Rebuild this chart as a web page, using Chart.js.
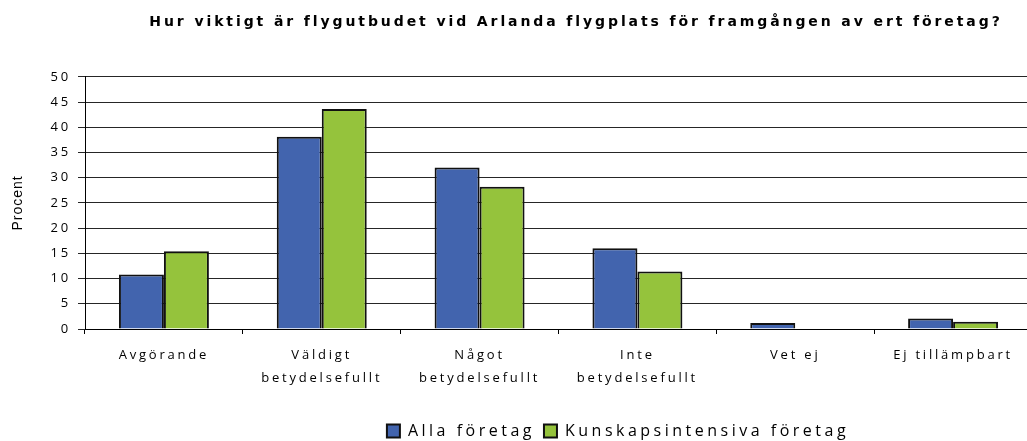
<!DOCTYPE html>
<html>
<head>
<meta charset="utf-8">
<script src="https://cdn.jsdelivr.net/npm/chart.js@4.4.0/dist/chart.umd.min.js"></script>
<style>
html, body { margin: 0; padding: 0; background: #fff; overflow: hidden; }
#wrap { width: 1040px; height: 441px; }
</style>
</head>
<body>
<div id="wrap"><canvas id="myChart"></canvas></div>
<script>
// kategorier och värden (procent)
const categories = [
    ['Avgörande'],
    ['Väldigt', 'betydelsefullt'],
    ['Något', 'betydelsefullt'],
    ['Inte', 'betydelsefullt'],
    ['Vet ej'],
    ['Ej tillämpbart']
];
const alla_foretag = [10.8, 38.1, 32.0, 16.0, 1.2, 2.1];
const kunskapsintensiva = [15.4, 43.6, 28.2, 11.4, 0, 1.45];
const series_names = ['Alla företag', 'Kunskapsintensiva företag'];
const chart_title = 'Hur viktigt är flygutbudet vid Arlanda flygplats för framgången av ert företag?';
const y_title = 'Procent';

// byter ut en metod så att den körs med eget teckenavstånd (och ev. förskjutning)
function with_spacing(obj, name, spacing, shift) {
    if (!obj || typeof obj[name] !== 'function' || obj['_w_' + name]) return;
    const orig = obj[name];
    obj[name] = function () {
        const c = this.ctx || this.chart.ctx;
        c.save();
        c.letterSpacing = spacing;
        if (shift) c.translate(shift, 0);
        const r = orig.apply(this, arguments);
        c.restore();
        return r;
    };
    obj['_w_' + name] = true;
}

const spacing_plugin = {
    id: 'spacing',
    beforeLayout(chart) {
        chart.ctx.letterSpacing = '2.8px';
        with_spacing(chart.legend, 'fit', '3.5px', 0);
        with_spacing(chart.legend, 'draw', '3.5px', 102);
        with_spacing(chart.titleBlock, 'draw', '2.9px', 60);
    },
    beforeDraw(chart) {
        chart.ctx.letterSpacing = '2.8px';
        with_spacing(chart.scales.y, 'drawTitle', '1px', 0);
    }
};

const chart_data = {
    labels: categories,
    datasets: [{
        label: series_names[0],
        backgroundColor: '#4264ae',
        borderColor: '#111',
        borderWidth: 2,
        data: alla_foretag,
    }, {
        label: series_names[1],
        backgroundColor: '#95c33c',
        borderColor: '#111',
        borderWidth: 2,
        data: kunskapsintensiva,
    }]
};

const chart_config = {
    type: 'bar',
    data: chart_data,
    plugins: [spacing_plugin],
    options: {
        responsive: true,
        maintainAspectRatio: false,
        animation: false,
        datasets: {
            bar: { categoryPercentage: 0.57, barPercentage: 1.0 }
        },
        layout: { padding: { left: 0, right: 8, top: 0, bottom: -8 } },
        plugins: {
            title: {
                display: true,
                text: chart_title,
                color: '#000',
                font: { family: 'DejaVu Sans', size: 14, weight: 'bold' },
                padding: { top: 14, bottom: 46 }
            },
            legend: {
                position: 'bottom',
                labels: {
                    color: '#000',
                    font: { family: 'Open Sans', size: 16 },
                    boxWidth: 13,
                    boxHeight: 13,
                    padding: 9
                }
            },
            tooltip: { enabled: false }
        },
        scales: {
            x: {
                grid: {
                    offset: true,
                    drawOnChartArea: false,
                    drawTicks: true,
                    tickLength: 5,
                    color: '#000'
                },
                border: { color: '#000', width: 1 },
                ticks: {
                    color: '#000',
                    maxRotation: 0,
                    padding: 10,
                    font: { family: 'Open Sans', size: 13, lineHeight: 1.77 }
                },
                afterFit(scale) { scale.height = 85; }
            },
            y: {
                min: 0,
                max: 50,
                ticks: {
                    stepSize: 5,
                    color: '#000',
                    padding: 7,
                    font: { family: 'Open Sans', size: 13 }
                },
                grid: {
                    color: '#262626',
                    tickLength: 7
                },
                border: { color: '#000', width: 1 },
                title: {
                    display: true,
                    text: y_title,
                    color: '#000',
                    font: { family: 'Liberation Sans', size: 14 },
                    padding: { top: 10, bottom: 0 }
                },
                afterFit(scale) { scale.width = 85; }
            }
        }
    }
};

const myChart = new Chart(
    document.getElementById('myChart'),
    chart_config
);
</script>
</body>
</html>
